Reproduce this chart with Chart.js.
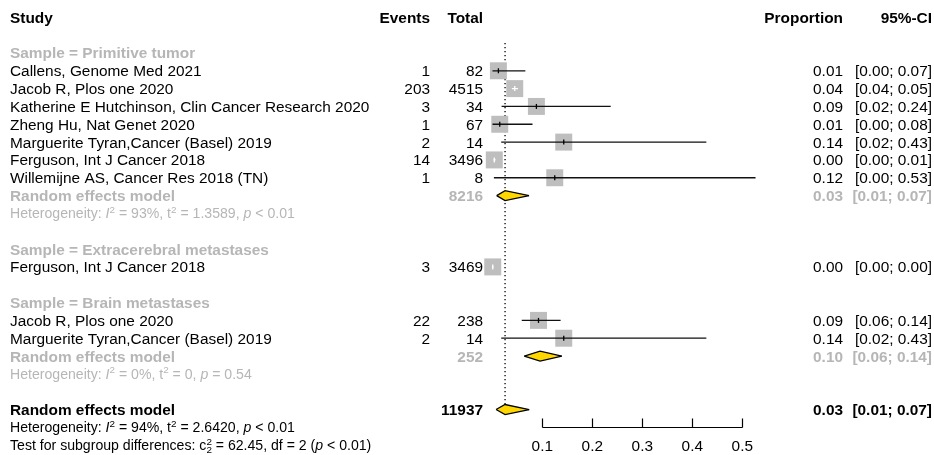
<!DOCTYPE html>
<html>
<head>
<meta charset="utf-8">
<title>Forest plot – proportion by sample type</title>
<script src="https://cdn.jsdelivr.net/npm/chart.js@4.4.0/dist/chart.umd.min.js"></script>
<style>
  html, body { margin: 0; padding: 0; background: #fff; }
  #forest { display: block; }
</style>
</head>
<body>
<canvas id="forest" width="934" height="455"></canvas>
<script>
// Rows are counted from the column header line (row 0) downwards
const studyNames = [
    'Callens, Genome Med 2021',
    'Jacob R, Plos one 2020',
    'Katherine E Hutchinson, Clin Cancer Research 2020',
    'Zheng Hu, Nat Genet 2020',
    'Marguerite Tyran,Cancer (Basel) 2019',
    'Ferguson, Int J Cancer 2018',
    'Willemijne AS, Cancer Res 2018 (TN)',
    'Ferguson, Int J Cancer 2018',
    'Jacob R, Plos one 2020',
    'Marguerite Tyran,Cancer (Basel) 2019'
];
const studyRows   = [3, 4, 5, 6, 7, 8, 9, 14, 17, 18];
const studyEvents = [1, 203, 3, 1, 2, 14, 1, 3, 22, 2];
const studyTotals = [82, 4515, 34, 67, 14, 3496, 8, 3469, 238, 14];
const studyProp   = [0.0122, 0.0449, 0.0882, 0.0149, 0.1429, 0.0040, 0.1249, 0.0009, 0.0924, 0.1429];
const studyLower  = [0.0003, 0.0391, 0.0186, 0.0004, 0.0178, 0.0022, 0.0032, 0.0002, 0.0589, 0.0178];
const studyUpper  = [0.0661, 0.0513, 0.2368, 0.0804, 0.4281, 0.0067, 0.5265, 0.0025, 0.1366, 0.4281];

const groupRows   = [2, 13, 16];
const groupLabels = ['Sample = Primitive tumor', 'Sample = Extracerebral metastases', 'Sample = Brain metastases'];

// Random effects estimates: two subgroups with more than one study, then the overall model
const pooledRows   = [10, 19, 22];
const pooledTotals = [8216, 252, 11937];
const pooledProp   = [0.0255, 0.0955, 0.0255];
const pooledLower  = [0.0088, 0.0640, 0.0076];
const pooledUpper  = [0.0735, 0.1390, 0.0738];
const pooledLabel  = 'Random effects model';

const hetRows = [11, 20, 23, 24];
const hetTexts = [
    [['Heterogeneity: '], ['I', 'i'], ['2', 'sup'], [' = 93%, '], ['t'], ['2', 'sup'], [' = 1.3589, '], ['p', 'i'], [' < 0.01']],
    [['Heterogeneity: '], ['I', 'i'], ['2', 'sup'], [' = 0%, '], ['t'], ['2', 'sup'], [' = 0, '], ['p', 'i'], [' = 0.54']],
    [['Heterogeneity: '], ['I', 'i'], ['2', 'sup'], [' = 94%, '], ['t'], ['2', 'sup'], [' = 2.6420, '], ['p', 'i'], [' < 0.01']],
    [['Test for subgroup differences: '], ['c'], ['2', 'supsub'], [' = 62.45, df = 2 ('], ['p', 'i'], [' < 0.01)']]
];

const headers = ['Study', 'Events', 'Total', 'Proportion', '95%-CI'];
const xTicks = [0.1, 0.2, 0.3, 0.4, 0.5];
const axisRow = 23;
const tickLabelRow = 24;

const FONT = '"Liberation Sans", Arial, Helvetica, sans-serif';
const FS = 15.4;      // main text
const FS_HET = 14.1;  // heterogeneity statistics
const GRAY_TEXT = '#b6b6b6';
const GRAY_BOX = '#bebebe';
const GOLD = '#ffd700';
const LW = 1.3;

// column anchors (left text, then right-aligned columns)
const COL_STUDY = 10, COL_EVENTS = 430, COL_TOTAL = 483, COL_PROP = 843, COL_CI = 932;

const BOX_HALF = 0.017;   // half of a square's side, in proportion units
const DIAMOND_HALF = 0.28; // half of a diamond's height, in rows

const fmt = v => v.toFixed(2);
const ciText = (lo, hi) => `[${fmt(lo)}; ${fmt(hi)}]`;

// a study's CI fitting inside its square is drawn in white
const ciInside = studyProp.map((p, i) => studyUpper[i] - p < BOX_HALF && p - studyLower[i] < BOX_HALF);

function ciSegments(inside) {
    const pts = [];
    studyRows.forEach((row, i) => {
        if (ciInside[i] !== inside) return;
        pts.push({ x: studyLower[i], y: row }, { x: studyUpper[i], y: row }, { x: null, y: null });
    });
    return pts;
}

function drawRich(ctx, parts, x, baseline, size, color) {
    let cx = x;
    ctx.fillStyle = color;
    ctx.textAlign = 'left';
    ctx.textBaseline = 'alphabetic';
    parts.forEach(([text, kind]) => {
        if (kind === 'sup' || kind === 'supsub') {
            ctx.font = `${(size * 0.7).toFixed(1)}px ${FONT}`;
            ctx.fillText(text, cx, baseline - size * 0.4);
            if (kind === 'supsub') ctx.fillText(text, cx, baseline + size * 0.22);
            cx += ctx.measureText(text).width;
        } else {
            ctx.font = `${kind === 'i' ? 'italic ' : ''}${size}px ${FONT}`;
            ctx.fillText(text, cx, baseline);
            cx += ctx.measureText(text).width;
        }
    });
}

// Text columns, header, heterogeneity lines and the x axis
const forestText = {
    id: 'forestText',
    afterDraw(chart) {
        const { ctx, scales: { x, y } } = chart;
        const base = (row, size) => y.getPixelForValue(row) + size * 0.36;
        const put = (text, px, row, align, bold, color, size = FS) => {
            ctx.font = `${bold ? 'bold ' : ''}${size}px ${FONT}`;
            ctx.textAlign = align;
            ctx.textBaseline = 'alphabetic';
            ctx.fillStyle = color;
            ctx.fillText(text, px, base(row, size));
        };
        ctx.save();

        // header
        put(headers[0], COL_STUDY, 0, 'left', true, '#000');
        put(headers[1], COL_EVENTS, 0, 'right', true, '#000');
        put(headers[2], COL_TOTAL, 0, 'right', true, '#000');
        put(headers[3], COL_PROP, 0, 'right', true, '#000');
        put(headers[4], COL_CI, 0, 'right', true, '#000');

        groupRows.forEach((row, i) => put(groupLabels[i], COL_STUDY, row, 'left', true, GRAY_TEXT));

        studyRows.forEach((row, i) => {
            put(studyNames[i], COL_STUDY, row, 'left', false, '#000');
            put(String(studyEvents[i]), COL_EVENTS, row, 'right', false, '#000');
            put(String(studyTotals[i]), COL_TOTAL, row, 'right', false, '#000');
            put(fmt(studyProp[i]), COL_PROP, row, 'right', false, '#000');
            put(ciText(studyLower[i], studyUpper[i]), COL_CI, row, 'right', false, '#000');
        });

        pooledRows.forEach((row, i) => {
            const color = i === pooledRows.length - 1 ? '#000' : GRAY_TEXT;
            put(pooledLabel, COL_STUDY, row, 'left', true, color);
            put(String(pooledTotals[i]), COL_TOTAL, row, 'right', true, color);
            put(fmt(pooledProp[i]), COL_PROP, row, 'right', true, color);
            put(ciText(pooledLower[i], pooledUpper[i]), COL_CI, row, 'right', true, color);
        });

        hetRows.forEach((row, i) => {
            const color = i < 2 ? GRAY_TEXT : '#000';
            drawRich(ctx, hetTexts[i], COL_STUDY, base(row, FS_HET), FS_HET, color);
        });

        // x axis: line between the outer ticks, ticks pointing up
        const ay = Math.round(y.getPixelForValue(axisRow)) + 0.5;
        const x0 = Math.round(x.getPixelForValue(xTicks[0])) + 0.5;
        const x1 = Math.round(x.getPixelForValue(xTicks[xTicks.length - 1])) + 0.5;
        ctx.strokeStyle = '#000';
        ctx.lineWidth = 1.2;
        ctx.beginPath();
        ctx.moveTo(x0, ay);
        ctx.lineTo(x1, ay);
        xTicks.forEach(v => {
            const px = Math.round(x.getPixelForValue(v)) + 0.5;
            ctx.moveTo(px, ay);
            ctx.lineTo(px, ay - 9);
        });
        ctx.stroke();
        xTicks.forEach(v => put(String(v), x.getPixelForValue(v), tickLabelRow, 'center', false, '#000'));

        ctx.restore();
    }
};

const datasets = [];

// estimate ticks (on top)
datasets.push({
    data: studyRows.map((row, i) => ({ x: studyProp[i], y: row })),
    pointStyle: 'line',
    pointRotation: 90,
    pointRadius: 2.5,
    pointBorderWidth: LW,
    pointBorderColor: ciInside.map(f => f ? '#ffffff' : '#000000'),
    showLine: false,
    clip: false,
    order: 0
});

// confidence intervals
datasets.push({
    data: ciSegments(false),
    showLine: true, borderColor: '#111', borderWidth: LW, pointRadius: 0,
    spanGaps: false, clip: false, order: 1
});
datasets.push({
    data: ciSegments(true),
    showLine: true, borderColor: '#fff', borderWidth: LW, pointRadius: 0,
    spanGaps: false, clip: false, order: 1
});

// study squares
datasets.push({
    data: studyRows.map((row, i) => ({ x: studyProp[i], y: row })),
    pointStyle: 'rect',
    pointRadius: 12,
    pointBackgroundColor: GRAY_BOX,
    pointBorderWidth: 0,
    showLine: false,
    clip: false,
    order: 2
});

// pooled diamonds: upper half, then lower half filled up to it
pooledRows.forEach((row, i) => {
    const lo = pooledLower[i], est = pooledProp[i], hi = pooledUpper[i];
    datasets.push({
        data: [{ x: lo, y: row }, { x: est, y: row - DIAMOND_HALF }, { x: hi, y: row }],
        showLine: true, borderColor: '#000', borderWidth: LW, pointRadius: 0,
        fill: false, clip: false, order: 3
    });
    datasets.push({
        data: [{ x: lo, y: row }, { x: est, y: row + DIAMOND_HALF }, { x: hi, y: row }],
        showLine: true, borderColor: '#000', borderWidth: LW, pointRadius: 0,
        fill: '-1', backgroundColor: GOLD, clip: false, order: 3
    });
});

// dotted line at the overall estimate
const overall = pooledRows.length - 1;
datasets.push({
    data: [{ x: pooledProp[overall], y: 1.44 }, { x: pooledProp[overall], y: pooledRows[overall] - DIAMOND_HALF }],
    showLine: true, borderColor: '#000', borderWidth: 1.3, borderDash: [1.3, 2.7],
    pointRadius: 0, clip: false, order: 5
});

new Chart(document.getElementById('forest'), {
    type: 'scatter',
    data: { datasets },
    options: {
        responsive: false,
        animation: false,
        devicePixelRatio: 1,
        events: [],
        layout: { autoPadding: false, padding: { left: 492.3, right: 191.7, top: 0, bottom: 0 } },
        scales: {
            x: { type: 'linear', min: 0, max: 0.5, display: false },
            y: { type: 'linear', min: -0.97, max: 24.55, reverse: true, display: false }
        },
        plugins: {
            legend: { display: false },
            tooltip: { enabled: false }
        }
    },
    plugins: [forestText]
});
</script>
</body>
</html>
